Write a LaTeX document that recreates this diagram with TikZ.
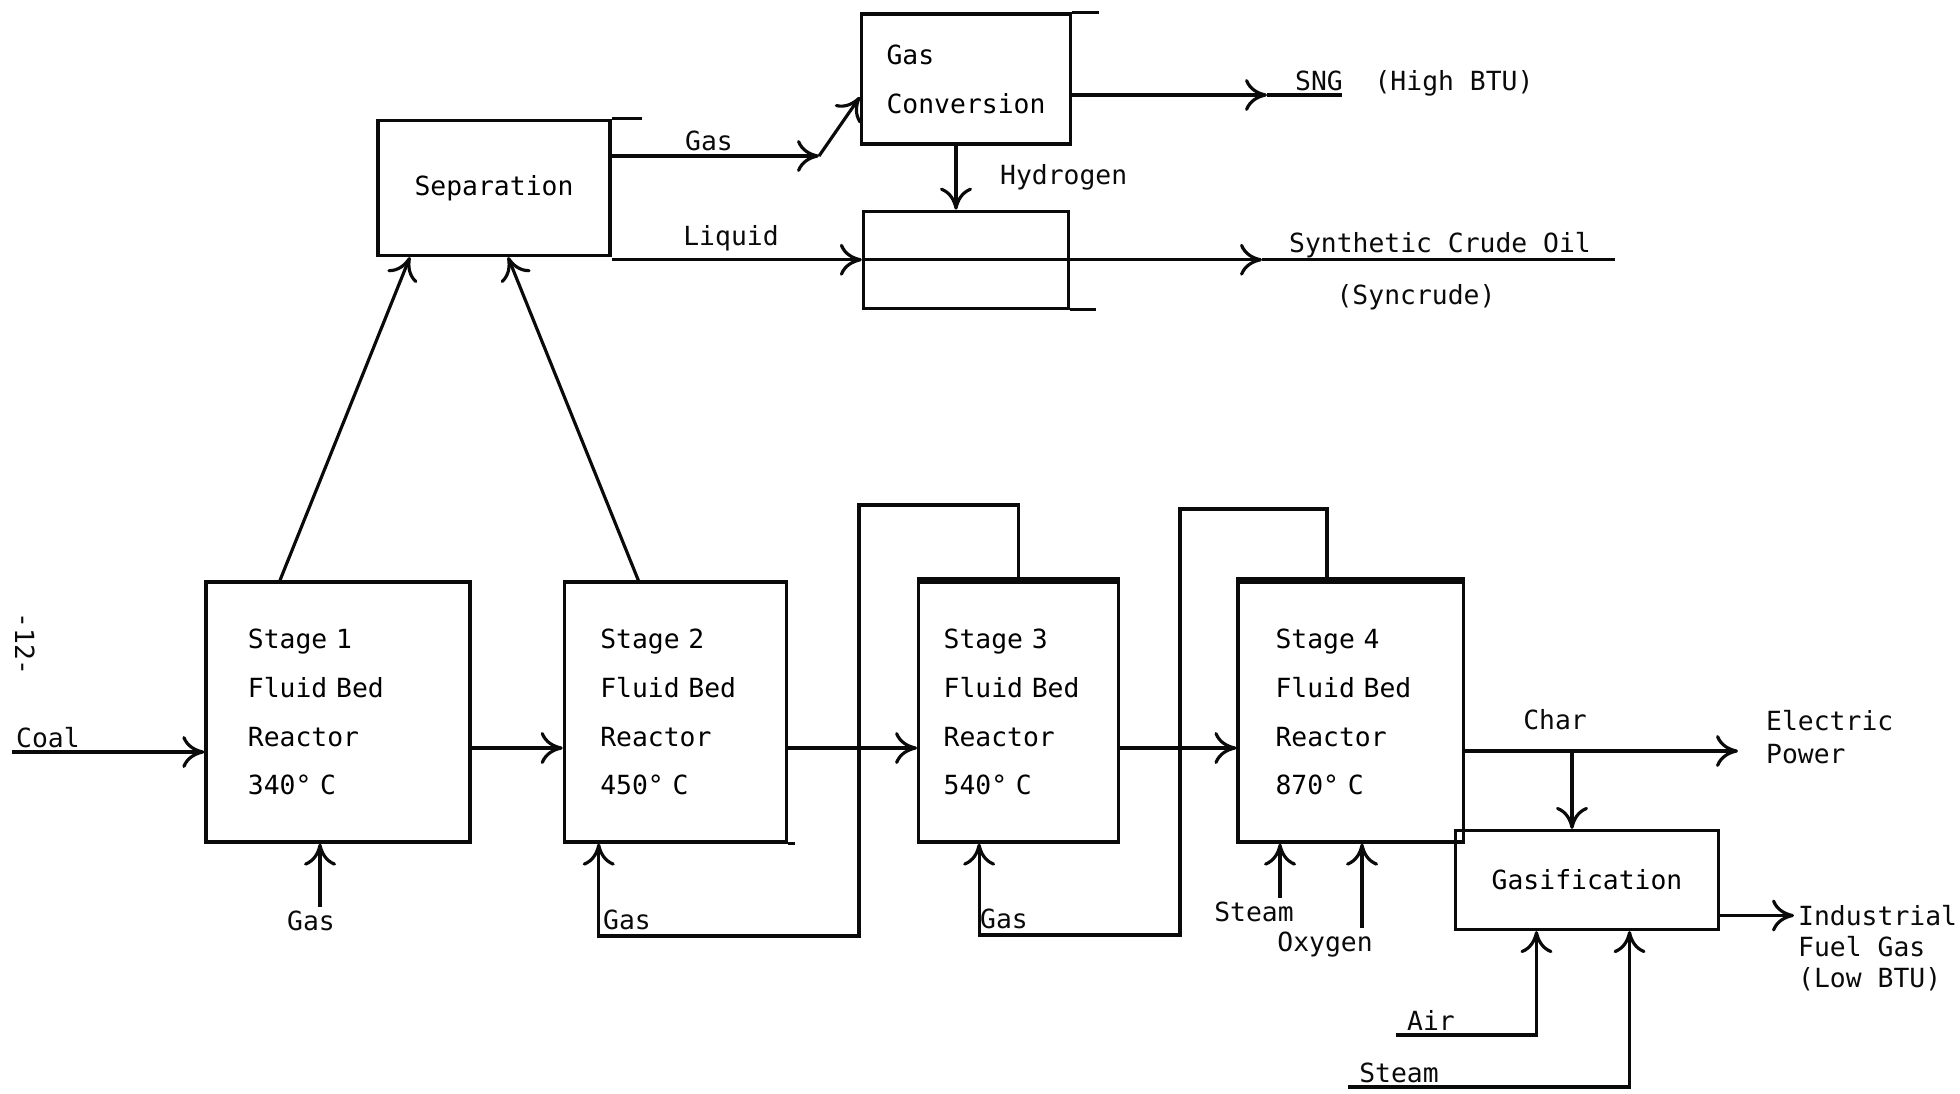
\documentclass[tikz,border=0pt]{standalone}
\usepackage{fontspec}
\setmonofont{DejaVu Sans Mono}
\usepackage{tikz}
\usetikzlibrary{arrows.meta,positioning,calc}
\definecolor{cInk}{HTML}{0A0A0A}
\tikzset{
  lab/.style={text=cInk, inner sep=1pt},
  tall/.style={font=\ttfamily\fontsize{7.5}{13.9}\selectfont},
}

\begin{document}
\begin{tikzpicture}[x=0.01cm, y=-0.01cm,
  font=\ttfamily\fontsize{7.5}{9}\selectfont,
  box/.style={rectangle, draw=cInk, line width=0.9pt, align=center, inner sep=2pt},
  stage/.style={box, tall, minimum height=2.6cm, text width=1.5cm, align=left},
  flow/.style={-{Computer Modern Rightarrow[length=2.2mm,width=3.2mm]},
    line width=0.9pt, draw=cInk},
  pipe/.style={line width=0.9pt, draw=cInk},
  lid/.style={line width=1.7pt, draw=cInk},
]
\useasboundingbox (0,0) rectangle (1960,1094);
% ---------------------------------------------------------------- top row
\node[box, minimum width=2.32cm, minimum height=1.35cm] (sep) at (494,188) {Separation};
\node[box, tall, align=left, minimum width=2.09cm, minimum height=1.30cm]
  (gc) at (966,79) {Gas\\Conversion};
\node[box, minimum width=2.05cm, minimum height=0.97cm, below=0.64cm of gc] (upg) {};
\draw[pipe] (sep.north east) -- ++(30,0);
\draw[pipe] (gc.north east) -- ++(27,0);
\draw[pipe] (upg.south east) -- ++(26,0);
% labels
\node[lab] (lgas) at (709,141) {Gas};
\node[lab] (lliq) at (731,238) {Liquid};
\node[lab, anchor=west] (lhyd) at (996,177) {Hydrogen};
\node[lab, anchor=west] (lsng) at (1291,83) {SNG~~(High BTU)};
\node[lab] (lsco) at (1440,245) {Synthetic Crude Oil};
\node[lab] (lsyn) at (1416,297) {(Syncrude)};
\coordinate (gasbend) at (819,156);
\coordinate (sngtip) at (1267,95);
\coordinate (sngend) at (1342,95);
\coordinate (scotip) at (1262,256);
\coordinate (scoend) at (1615,256);
% ---------------------------------------------------------------- stages
\node[stage, minimum width=2.64cm, text width=1.8cm] (s1) at (338,712) {Stage 1\\Fluid Bed\\Reactor\\340° C};
\node[stage, minimum width=2.22cm, right=0.91cm of s1] (s2) {Stage 2\\Fluid Bed\\Reactor\\450° C};
\node[stage, minimum width=2.00cm, right=1.29cm of s2] (s3) {Stage 3\\Fluid Bed\\Reactor\\540° C};
\node[stage, minimum width=2.25cm, right=1.16cm of s3] (s4) {Stage 4\\Fluid Bed\\Reactor\\870° C};
\node[box, minimum width=2.63cm, minimum height=0.99cm] (gasif) at (1587,880) {Gasification};
\draw[lid] (s3.north west) -- (s3.north east);
\draw[lid] (s4.north west) -- (s4.north east);
\draw[pipe] (s2.south east) -- ++(7,0);
% labels
\node[lab, rotate=-90] (pgno) at (25,644) {-12-};
\node[lab, anchor=south west] (lcoal) at (12,752) {Coal};
\node[lab] (lgas1) at (311,921) {Gas};
\node[lab, anchor=south west] (lgas2) at (599,934) {Gas};
\node[lab, anchor=south west] (lgas3) at (976,933) {Gas};
\node[lab] (lst1) at (1254,912) {Steam};
\node[lab] (lox) at (1325,945) {Oxygen};
\node[lab] (lchar) at (1555,720) {Char};
\node[lab, anchor=west, align=left, font=\ttfamily\fontsize{7.5}{9.4}\selectfont]
  (lep) at (1762,737) {Electric\\Power};
\node[lab, anchor=west, align=left, font=\ttfamily\fontsize{7.5}{8.8}\selectfont]
  (lfuel) at (1794,948) {Industrial\\Fuel Gas\\(Low BTU)};
\node[lab, anchor=south] (lair) at (1431,1035) {Air};
\node[lab, anchor=south] (lst2) at (1399,1087) {Steam};
\coordinate (split) at (1572,751);
\coordinate (r2top) at (859,505);
\coordinate (r2bot) at (859,936);
\coordinate (r3top) at (1180,509);
\coordinate (r3bot) at (1180,935);
\coordinate (airin) at (1396,1035);
\coordinate (stmin) at (1348,1087);
% ---------------------------------------------------------------- arrows
\draw[flow] (sep.east |- gasbend) -- (gasbend);
\draw[flow] (gasbend) -- ([yshift=-1.8mm]gc.west);
\draw[flow] (sep.east |- upg.west) -- (upg.west);
\draw[pipe] (upg.west) -- (upg.east);
\draw[flow] (upg.east) -- (scotip |- upg.east);
\draw[pipe] (scotip |- upg.east) -- (scoend |- upg.east);
\draw[flow] (gc.east |- sngtip) -- (sngtip);
\draw[pipe] (sngtip) -- (sngend);
\draw[flow] ([xshift=-1mm]gc.south) -- ([xshift=-1mm]gc.south |- upg.north);
\draw[flow] ([xshift=-0.58cm]s1.north) -- ([xshift=-0.84cm]sep.south);
\draw[flow] ([xshift=-0.37cm]s2.north) -- ([xshift=0.14cm]sep.south);
\draw[flow] (lcoal.south west) -- (lcoal.south west -| s1.west);
\draw[flow] ([yshift=-3.6mm]s1.east) -- ([yshift=-3.6mm]s2.west);
\draw[flow] ([yshift=-3.6mm]s2.east) -- ([yshift=-3.6mm]s3.west);
\draw[flow] ([yshift=-3.6mm]s3.east) -- ([yshift=-3.6mm]s4.west);
\draw[flow, shorten >=2.4mm] ([yshift=-3.9mm]s4.east) -- ([yshift=-3.9mm]s4.east -| lep.west);
\draw[flow] (split) -- (split |- gasif.north);
\draw[flow] ([yshift=-3.55mm]gasif.east) -- ([yshift=-3.55mm]gasif.east -| lfuel.west);
\draw[flow] ([xshift=0.9mm]lgas1.north) -- ([xshift=0.9mm]lgas1.north |- s1.south);
\draw[flow] (s3.north) |- (r2top) -- (r2bot) -| ([xshift=0.36cm]s2.south west);
\draw[flow] ([xshift=-0.235cm]s4.north) |- (r3top) -- (r3bot) -| ([xshift=0.62cm]s3.south west);
\draw[flow] ([xshift=0.26cm]lst1.north) -- ([xshift=0.26cm]lst1.north |- s4.south);
\draw[flow] ([xshift=0.37cm]lox.north) -- ([xshift=0.37cm]lox.north |- s4.south);
\draw[flow] (airin) -| ([xshift=-0.505cm]gasif.south);
\draw[flow] (stmin) -| ([xshift=0.425cm]gasif.south);
\end{tikzpicture}
\end{document}
